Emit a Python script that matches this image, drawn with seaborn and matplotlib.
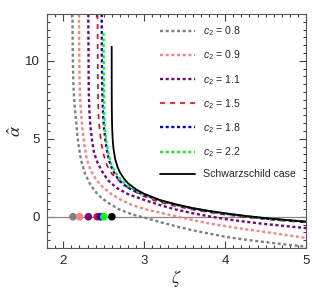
import numpy as np
import pandas as pd
import matplotlib
matplotlib.use("Agg")
import matplotlib.pyplot as plt
import seaborn as sns
from matplotlib.ticker import MultipleLocator

# deflection angle curves (zeta, alpha_hat)
zeta_08 = [2.113, 2.116, 2.12, 2.127, 2.14, 2.16, 2.185, 2.22, 2.27, 2.34, 2.43, 2.55,
           2.7, 2.85, 3.0, 3.2, 3.4, 3.6, 3.8, 4.0, 4.25, 4.5, 4.75, 5.0]
alpha_08 = [13.0, 11.0, 9.5, 8.2, 7.1, 6.0, 4.7, 3.6, 2.75, 2.0, 1.4, 0.9,
            0.45, 0.15, -0.05, -0.35, -0.62, -0.87, -1.08, -1.28, -1.47, -1.63, -1.78, -1.92]

zeta_09 = [2.193, 2.196, 2.2, 2.206, 2.215, 2.235, 2.26, 2.29, 2.34, 2.41, 2.48, 2.58,
           2.7, 2.85, 3.0, 3.15, 3.3, 3.5, 3.75, 4.0, 4.25, 4.5, 4.75, 5.0]
alpha_09 = [13.0, 11.0, 9.0, 7.8, 6.9, 5.7, 4.6, 3.7, 2.95, 2.35, 1.95, 1.5,
            1.12, 0.75, 0.5, 0.32, 0.14, -0.1, -0.38, -0.6, -0.8, -0.98, -1.17, -1.36]

zeta_11 = [2.309, 2.311, 2.313, 2.316, 2.322, 2.335, 2.355, 2.38, 2.42, 2.48, 2.56, 2.66,
           2.8, 3.0, 3.2, 3.4, 3.6, 3.8, 4.0, 4.25, 4.5, 4.75, 5.0]
alpha_11 = [13.0, 11.0, 9.0, 7.7, 6.8, 5.8, 4.9, 4.1, 3.5, 2.9, 2.3, 1.85,
            1.45, 1.08, 0.74, 0.45, 0.22, 0.03, -0.15, -0.32, -0.47, -0.6, -0.73]

zeta_15 = [2.423, 2.425, 2.427, 2.43, 2.436, 2.45, 2.47, 2.5, 2.54, 2.6, 2.7, 2.82,
           3.0, 3.15, 3.35, 3.6, 3.8, 4.0, 4.25, 4.5, 4.75, 5.0]
alpha_15 = [13.0, 11.0, 9.0, 7.5, 6.4, 5.5, 4.7, 3.95, 3.3, 2.75, 2.25, 1.78,
            1.3, 1.0, 0.72, 0.45, 0.28, 0.13, -0.03, -0.16, -0.27, -0.37]

zeta_18 = [2.474, 2.476, 2.479, 2.484, 2.492, 2.505, 2.525, 2.55, 2.585, 2.63, 2.68, 2.75,
           2.85, 3.0, 3.2, 3.4, 3.6, 3.8, 4.0, 4.25, 4.5, 4.75, 5.0]
alpha_18 = [13.0, 11.0, 9.0, 7.5, 6.5, 5.6, 4.7, 3.95, 3.3, 2.8, 2.4, 2.05,
            1.72, 1.4, 1.03, 0.76, 0.53, 0.35, 0.2, 0.03, -0.11, -0.22, -0.32]

zeta_22 = [2.497, 2.499, 2.502, 2.506, 2.515, 2.535, 2.565, 2.6, 2.65, 2.7, 2.78, 2.88,
           3.0, 3.2, 3.4, 3.6, 3.8, 4.0, 4.25, 4.5, 4.75, 5.0]
alpha_22 = [11.8, 10.0, 8.0, 6.6, 5.6, 4.7, 3.9, 3.25, 2.8, 2.45, 2.05, 1.72,
            1.42, 1.04, 0.77, 0.54, 0.36, 0.21, 0.04, -0.1, -0.21, -0.31]

zeta_sch = [2.59803, 2.5981, 2.5985, 2.599, 2.6, 2.602, 2.605, 2.61, 2.62, 2.64, 2.67, 2.7,
            2.75, 2.8, 2.9, 3.0, 3.2, 3.4, 3.6, 3.8, 4.0, 4.25, 4.5, 4.75, 5.0]
alpha_sch = [10.9, 9.77, 8.16, 7.46, 6.77, 6.08, 5.52, 4.98, 4.37, 3.72, 3.19, 2.84,
             2.44, 2.15, 1.75, 1.47, 1.06, 0.78, 0.55, 0.37, 0.22, 0.05, -0.09, -0.21, -0.32]

# photon-sphere markers on the zeta axis
dot_zeta = [2.12, 2.2, 2.31, 2.42, 2.46, 2.5, 2.6]
dot_colors = ["#808080", "#ff8080", "#800080", "#ff0000", "#0000ff", "#00ff00", "#000000"]

labels = ["$c_2$ = 0.8", "$c_2$ = 0.9", "$c_2$ = 1.1", "$c_2$ = 1.5",
          "$c_2$ = 1.8", "$c_2$ = 2.2", "Schwarzschild case"]

sns.set_style("ticks")
plt.rcParams['font.family'] = ['Liberation Sans', 'DejaVu Sans']
plt.rcParams['mathtext.fontset'] = 'custom'
plt.rcParams['mathtext.rm'] = 'Liberation Sans'
plt.rcParams['mathtext.it'] = 'Liberation Sans:italic'

fig = plt.figure(figsize=(3.12, 2.98), dpi=100)
ax = fig.add_axes([0.151, 0.168, 0.830, 0.785])

ax.axhline(0, color="#8a8a8a", lw=0.9, zorder=1)

series = [
    (zeta_08, alpha_08, "#808080", (0, (1.3, 1.1)), 1.7),
    (zeta_09, alpha_09, "#ff8080", (0, (1.3, 1.1)), 1.7),
    (zeta_11, alpha_11, "#800080", (0, (1.3, 1.1)), 1.7),
    (zeta_15, alpha_15, "#ff0000", (0, (3.0, 3.0)), 1.2),
    (zeta_18, alpha_18, "#0000ff", (0, (1.3, 1.1)), 1.7),
    (zeta_22, alpha_22, "#00ff00", (0, (1.3, 1.1)), 1.7),
    (zeta_sch, alpha_sch, "#000000", "-", 1.3),
]
for (zx, ay, col, ls, lw), lab in zip(series, labels):
    sns.lineplot(x=zx, y=ay, ax=ax, color=col, linestyle=ls, lw=lw, label=lab,
                 sort=False, estimator=None, zorder=2)

dots = pd.DataFrame({"zeta": dot_zeta, "alpha": [0.0] * len(dot_zeta), "c": dot_colors})
sns.scatterplot(data=dots, x="zeta", y="alpha", hue="c", palette=dot_colors,
                s=30, linewidth=0, ax=ax, legend=False, zorder=4)

ax.set_xlim(1.8, 5.0)
ax.set_ylim(-2.0, 13.0)
ax.xaxis.set_major_locator(MultipleLocator(1))
ax.xaxis.set_minor_locator(MultipleLocator(0.1))
ax.yaxis.set_major_locator(MultipleLocator(5))
ax.yaxis.set_minor_locator(MultipleLocator(0.5))
ax.tick_params(which="both", direction="in", top=True, right=True, color="#444444",
               labelsize=9.5, width=0.8)
ax.tick_params(which="major", length=5, pad=5)
ax.tick_params(which="minor", length=2.5)
for sp in ax.spines.values():
    sp.set_color("#555555")
    sp.set_linewidth(0.8)

ax.set_xlabel(r"$\zeta$", fontsize=13, labelpad=1, math_fontfamily="stix")
ax.set_ylabel(r"$\hat{\alpha}$", fontsize=13, math_fontfamily="stix")
ax.yaxis.set_label_coords(-0.085, 0.5)

leg = ax.legend(loc="upper left", bbox_to_anchor=(0.435, 0.955), frameon=False,
                fontsize=7.6, handlelength=3.3, handletextpad=0.8, labelspacing=0.98,
                borderpad=0, borderaxespad=0)

fig.savefig("out.png", dpi=100)
